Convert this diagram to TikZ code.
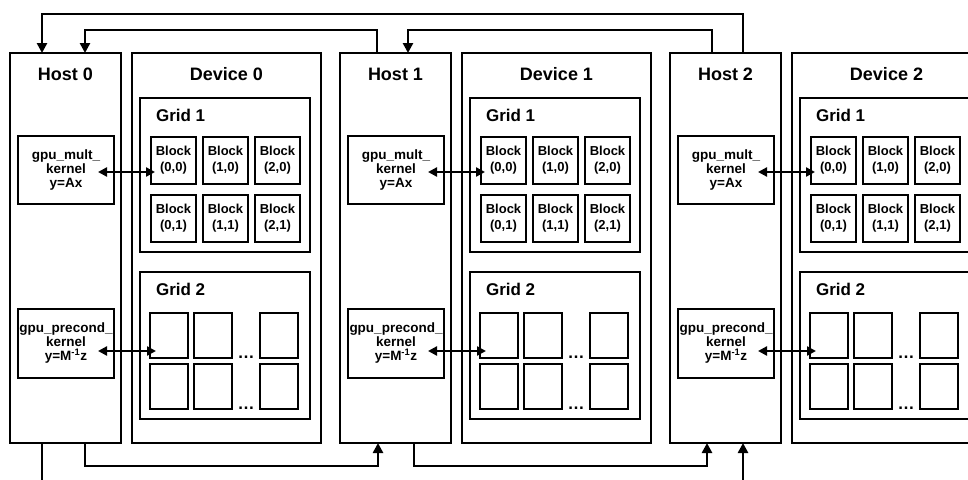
\documentclass[tikz,border=0pt]{standalone}
\usepackage{fontspec}
\setmainfont{Liberation Sans}
\usetikzlibrary{arrows.meta,positioning,calc}

\begin{document}
\begin{tikzpicture}[
  x=1pt,y=-1pt,
  thickbox/.style={draw,line width=2.9pt,outer sep=0pt,anchor=north west},
  host/.style={thickbox,minimum width=111pt,minimum height=390pt},
  dev/.style={thickbox,minimum width=189pt,minimum height=390pt},
  gridbox/.style={thickbox,minimum width=170pt},
  kern/.style={thickbox,minimum width=96pt,align=center,inner sep=0pt,font=\fontsize{13.5}{14}\selectfont\bfseries},
  blk/.style={draw,line width=1.6pt,outer sep=0pt,minimum width=45pt,minimum height=47pt,align=center,inner sep=0pt,font=\fontsize{13}{16}\selectfont\bfseries},
  cell/.style={draw,line width=1.6pt,outer sep=0pt,minimum width=38pt,minimum height=45pt},
  hdr/.style={font=\fontsize{18}{20}\selectfont\bfseries},
  glabel/.style={anchor=west,font=\fontsize{17}{19}\selectfont\bfseries},
  dots/.style={anchor=base,inner sep=0pt,font=\fontsize{17}{17}\selectfont\bfseries},
  link/.style={line width=2.9pt,-{Triangle[length=10pt,width=10pt]}},
  dbl/.style={line width=2.3pt,{Triangle[length=9pt,width=9pt]}-{Triangle[length=9pt,width=9pt]}}
]
  \useasboundingbox (0,0) rectangle (968,479);
  \clip (0,0) rectangle (968,479);

  % one host with its device per column
  \foreach \i in {0,1,2}{
    \node[host] (h\i) at (10+330*\i,53) {};
    \node[dev,right=11pt of h\i] (d\i) {};
    \node[hdr] (ht\i) at ([yshift=-21pt]h\i.north) {Host \i};
    \node[hdr] (dt\i) at ([yshift=-21pt]d\i.north) {Device \i};

    % grid 1
    \node[gridbox,minimum height=154pt] (ga\i) at ([xshift=8pt,yshift=-45pt]d\i.north west) {};
    \node[glabel] (gat\i) at ([xshift=12.5pt,yshift=-17pt]ga\i.north west) {Grid 1};
    \node[blk,anchor=north west] (b\i-00) at ([xshift=11pt,yshift=-39pt]ga\i.north west) {Block\\(0,0)};
    \node[blk,right=7pt of b\i-00] (b\i-10) {Block\\(1,0)};
    \node[blk,right=7pt of b\i-10] (b\i-20) {Block\\(2,0)};
    \node[blk,below=11pt of b\i-00] (b\i-01) {Block\\(0,1)};
    \node[blk,right=7pt of b\i-01] (b\i-11) {Block\\(1,1)};
    \node[blk,right=7pt of b\i-11] (b\i-21) {Block\\(2,1)};

    % grid 2
    \node[gridbox,minimum height=147pt] (gb\i) at ([xshift=8pt,yshift=-219pt]d\i.north west) {};
    \node[glabel] (gbt\i) at ([xshift=12.5pt,yshift=-17pt]gb\i.north west) {Grid 2};
    \node[cell,anchor=north west] (s\i-1) at ([xshift=10pt,yshift=-41pt]gb\i.north west) {};
    \node[cell,right=6pt of s\i-1] (s\i-2) {};
    \node[cell,right=28pt of s\i-2] (s\i-3) {};
    \node[cell,below=6pt of s\i-1] (s\i-4) {};
    \node[cell,right=6pt of s\i-4] (s\i-5) {};
    \node[cell,right=28pt of s\i-5] (s\i-6) {};
    \node[dots] (e\i-1) at ($(s\i-2.south east)!0.5!(s\i-3.south west)$) {…};
    \node[dots] (e\i-2) at ($(s\i-5.south east)!0.5!(s\i-6.south west)$) {…};

    % kernels on the host
    \node[kern,minimum height=68pt] (km\i) at ([xshift=8pt,yshift=-83pt]h\i.north west) {gpu\_mult\_\\kernel\\y=Ax};
    \node[kern,minimum height=69pt] (kp\i) at ([xshift=8pt,yshift=-256pt]h\i.north west) {gpu\_precond\_\\kernel\\y=M\textsuperscript{-1}z};
    \draw[dbl] ([xshift=32pt,yshift=-2pt]km\i.center) -- ([xshift=4pt,yshift=-11.5pt]b\i-00.west);
    \draw[dbl] ([xshift=32pt,yshift=-7.5pt]kp\i.center) -- ([xshift=6pt,yshift=-15.5pt]s\i-1.west);
  }

  % links between hosts
  \draw[link] ([xshift=73pt]h2.north west) -- ++(0,-39) -| ([xshift=32pt]h0.north west);
  \draw[link] ([xshift=37pt]h1.north west) -- ++(0,-23) -| ([xshift=75pt]h0.north west);
  \draw[link] ([xshift=42pt]h2.north west) -- ++(0,-23) -| ([xshift=68pt]h1.north west);
  \draw[link] ([xshift=75pt]h0.south west) -- ++(0,23) -| ([xshift=38pt]h1.south west);
  \draw[link] ([xshift=74pt]h1.south west) -- ++(0,23) -| ([xshift=37pt]h2.south west);
  \coordinate (lo0) at ([xshift=32pt,yshift=-40pt]h0.south west);
  \coordinate (lo2) at ([xshift=73pt,yshift=-40pt]h2.south west);
  \draw[line width=2.9pt] ([xshift=32pt]h0.south west) -- (lo0);
  \draw[link] (lo2) -- ([xshift=73pt]h2.south west);
\end{tikzpicture}
\end{document}
